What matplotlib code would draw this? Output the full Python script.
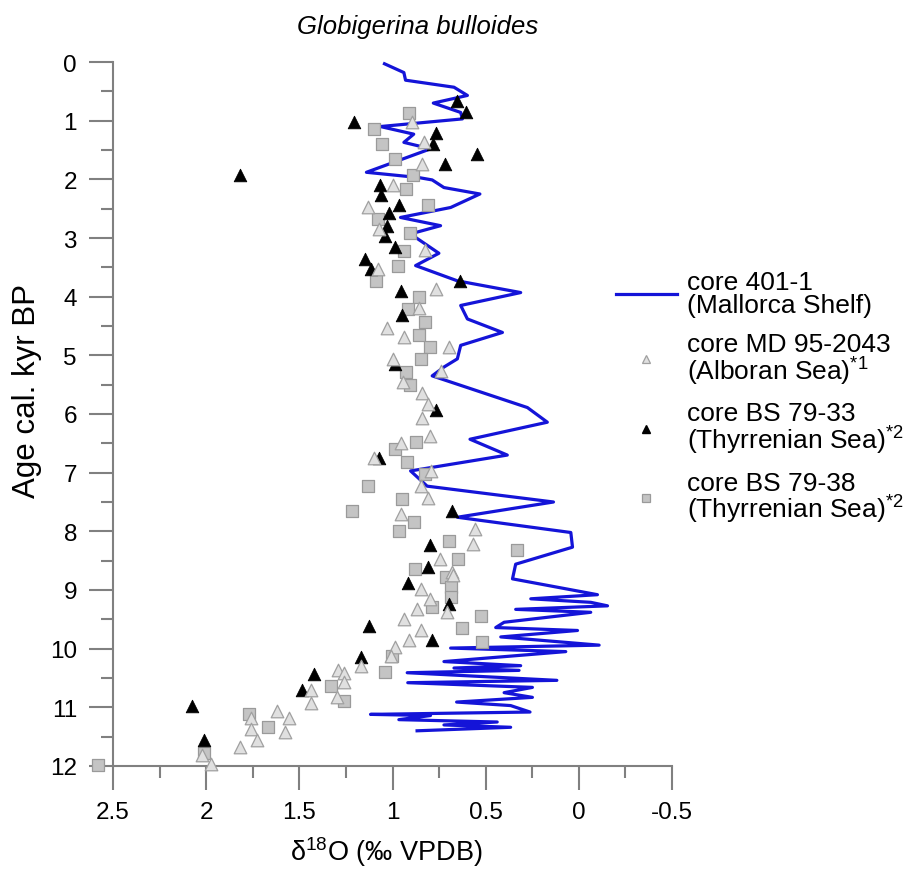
import matplotlib
matplotlib.use("Agg")
import matplotlib.pyplot as plt
from matplotlib.lines import Line2D
from matplotlib.ticker import MultipleLocator

plt.rcParams['font.family'] = ['Liberation Sans', 'DejaVu Sans']
plt.rcParams['mathtext.fontset'] = 'custom'
plt.rcParams['mathtext.rm'] = 'Liberation Sans'
plt.rcParams['mathtext.it'] = 'Liberation Sans:italic'

# core 401-1 (Mallorca Shelf): d18O vs age
line_d18o = [1.043, 0.939, 0.930, 0.670, 0.598, 0.781, 0.634, 0.625, 1.065, 0.886,
             0.939, 0.796, 1.140, 0.859, 0.787, 0.724, 0.531, 0.688, 0.957, 0.742,
             0.903, 0.876, 0.751, 0.876, 0.652, 0.312, 0.634, 0.598, 0.410, 0.634,
             0.652, 0.724, 0.787, 0.276, 0.169, 0.584, 0.384, 0.903, 0.814, 0.136,
             0.652, 0.043, 0.034, 0.339, 0.356, -0.100, 0.258, -0.064, -0.154, 0.339,
             -0.064, 0.401, 0.446, 0.007, 0.419, -0.109, 0.688, 0.070, 0.724, 0.312,
             0.670, 0.321, 0.921, 0.118, 0.918, 0.249, 0.401, 0.249, 0.656, 0.366,
             0.262, 1.118, 0.796, 0.966, 0.438, 0.724, 0.366, 0.868]
line_age = [0.03, 0.18, 0.31, 0.43, 0.57, 0.70, 0.86, 0.97, 1.10, 1.23,
            1.37, 1.48, 1.88, 1.97, 2.01, 2.14, 2.25, 2.48, 2.65, 2.79,
            2.93, 2.99, 3.26, 3.47, 3.73, 3.93, 4.15, 4.38, 4.61, 4.83,
            5.06, 5.20, 5.35, 5.89, 6.14, 6.43, 6.70, 6.97, 7.23, 7.50,
            7.76, 8.02, 8.27, 8.56, 8.81, 9.08, 9.15, 9.21, 9.27, 9.33,
            9.38, 9.55, 9.64, 9.69, 9.80, 9.94, 9.99, 10.05, 10.22, 10.29,
            10.33, 10.37, 10.41, 10.54, 10.58, 10.66, 10.75, 10.83, 10.91, 10.97,
            11.08, 11.12, 11.14, 11.21, 11.25, 11.30, 11.34, 11.40]

# core MD 95-2043 (Alboran Sea)
md_d18o = [0.896, 0.832, 0.840, 0.997, 1.131, 1.070, 0.823, 1.079, 0.769, 0.859,
           1.029, 0.939, 0.697, 0.997, 0.739, 0.943, 0.840, 0.810, 0.840, 0.800,
           0.957, 1.097, 0.796, 0.849, 0.810, 0.957, 0.559, 0.566, 0.747, 0.679,
           0.674, 0.849, 0.800, 0.710, 0.868, 0.939, 0.849, 0.909, 0.984, 1.007,
           1.168, 1.292, 1.258, 1.262, 1.437, 1.297, 1.437, 1.620, 1.557, 1.760,
           1.760, 1.728, 1.575, 1.817, 2.020, 1.975]
md_age = [1.02, 1.37, 1.74, 2.10, 2.48, 2.85, 3.20, 3.53, 3.87, 4.19,
          4.54, 4.68, 4.86, 5.06, 5.26, 5.46, 5.64, 5.83, 6.06, 6.37,
          6.50, 6.75, 6.98, 7.22, 7.44, 7.70, 7.96, 8.22, 8.48, 8.70,
          8.74, 8.98, 9.16, 9.37, 9.33, 9.50, 9.68, 9.85, 9.98, 10.13,
          10.29, 10.37, 10.41, 10.56, 10.70, 10.83, 10.93, 11.07, 11.19, 11.19,
          11.37, 11.55, 11.42, 11.68, 11.82, 11.96]

# core BS 79-33 (Thyrrenian Sea)
bs33_d18o = [0.656, 0.604, 1.208, 0.769, 0.783, 0.548, 0.720, 1.817, 1.068, 1.061,
             0.966, 1.020, 1.029, 1.038, 0.989, 1.149, 1.118, 0.638, 0.957, 0.948,
             0.989, 0.769, 1.074, 0.679, 0.800, 0.810, 0.918, 0.697, 1.127, 0.787,
             1.168, 1.419, 1.486, 2.077, 2.011]
bs33_age = [0.67, 0.86, 1.03, 1.21, 1.39, 1.56, 1.74, 1.93, 2.09, 2.26,
            2.44, 2.58, 2.79, 2.97, 3.16, 3.35, 3.53, 3.73, 3.90, 4.31,
            5.15, 5.93, 6.75, 7.66, 8.23, 8.60, 8.88, 9.24, 9.62, 9.86,
            10.15, 10.43, 10.70, 10.98, 11.56]

# core BS 79-38 (Thyrrenian Sea)
bs38_d18o = [0.912, 1.097, 1.056, 0.989, 0.889, 0.930, 0.810, 1.079, 0.907, 0.939,
             0.970, 1.091, 0.859, 0.918, 0.828, 0.859, 0.800, 0.849, 0.930, 0.907,
             0.876, 0.984, 0.921, 0.823, 1.133, 0.948, 1.220, 0.882, 0.966, 0.697,
             0.330, 0.647, 0.880, 0.715, 0.688, 0.688, 0.787, 0.527, 0.625, 0.518,
             1.002, 1.038, 1.330, 1.258, 1.769, 1.670, 2.011, 2.579]
bs38_age = [0.87, 1.14, 1.39, 1.65, 1.92, 2.16, 2.43, 2.68, 2.92, 3.22,
            3.47, 3.74, 4.01, 4.21, 4.44, 4.65, 4.86, 5.07, 5.29, 5.51,
            6.47, 6.60, 6.81, 7.02, 7.23, 7.45, 7.66, 7.84, 7.99, 8.16,
            8.31, 8.47, 8.64, 8.77, 8.95, 9.12, 9.29, 9.45, 9.64, 9.88,
            10.13, 10.39, 10.64, 10.89, 11.11, 11.34, 11.77, 11.99]

x_ticks = [2.5, 2, 1.5, 1, 0.5, 0, -0.5]
x_ticklabels = ['2.5', '2', '1.5', '1', '0.5', '0', '-0.5']
y_ticks = list(range(0, 13))

labels = ["core 401-1\n(Mallorca Shelf)",
          "core MD 95-2043\n(Alboran Sea)$^{*1}$",
          "core BS 79-33\n(Thyrrenian Sea)$^{*2}$",
          "core BS 79-38\n(Thyrrenian Sea)$^{*2}$"]

fig = plt.figure(figsize=(9.07, 8.70), dpi=100)
ax = fig.add_axes([113/907, 103/870, 559/907, 704/870])

blue = '#1414d8'
axcol = '#808080'
ax.plot(line_d18o, line_age, color=blue, lw=2.3, zorder=2, clip_on=False)
ax.scatter(bs38_d18o, bs38_age, marker='s', s=72, facecolor='#c4c4c4',
           edgecolor='#9a9a9a', linewidths=0.9, zorder=3, clip_on=False)
ax.scatter(bs33_d18o, bs33_age, marker='^', s=82, facecolor='black',
           edgecolor='black', linewidths=0.6, zorder=4, clip_on=False)
ax.scatter(md_d18o, md_age, marker='^', s=82, facecolor='#e0e0e0',
           edgecolor='#a0a0a0', linewidths=0.9, zorder=5, clip_on=False)

ax.set_xlim(2.5, -0.5)
ax.set_ylim(12, 0)
for s in ['top', 'right']:
    ax.spines[s].set_visible(False)
for s in ['left', 'bottom']:
    ax.spines[s].set_color(axcol)
    ax.spines[s].set_linewidth(1.5)

ax.set_xticks(x_ticks)
ax.set_xticklabels(x_ticklabels)
ax.xaxis.set_minor_locator(MultipleLocator(0.25))
ax.set_yticks(y_ticks)
ax.set_yticklabels([str(v) for v in y_ticks])
ax.yaxis.set_minor_locator(MultipleLocator(0.5))
ax.tick_params(which='major', length=17, width=1.5, color=axcol, labelsize=17.5,
               direction='out')
ax.tick_params(which='minor', length=8.5, width=1.5, color=axcol, direction='out')
ax.tick_params(axis='y', which='major', pad=9)
ax.tick_params(axis='x', which='major', pad=8)

ax.set_ylabel("Age cal. kyr BP", fontsize=22.5)
ax.yaxis.set_label_coords(-0.127, 0.534)

# x axis title placed by its baseline so that it stays inside the figure
fig.text(386/907, 1 - 861/870, "δ$^{18}$O (‰ VPDB)", fontsize=19.5,
         ha='center', va='baseline')

fig.text(418/907, 1 - 27/870, "Globigerina bulloides", style='italic',
         fontsize=18.5, ha='center', va='center')

handles = [
    Line2D([], [], color=blue, lw=2.3),
    Line2D([], [], marker='^', ls='none', ms=6, mfc='#e0e0e0', mec='#a0a0a0', mew=0.9),
    Line2D([], [], marker='^', ls='none', ms=6, mfc='black', mec='black'),
    Line2D([], [], marker='s', ls='none', ms=5.5, mfc='#c4c4c4', mec='#9a9a9a', mew=0.9),
]
leg = fig.legend(handles, labels, loc='upper left', bbox_to_anchor=(616/907, 1 - 271/870),
                 frameon=False, fontsize=19, handlelength=2.3, handletextpad=0.4,
                 labelspacing=0.55, borderpad=0, borderaxespad=0)
for t in leg.get_texts():
    t.set_linespacing(0.95)

fig.savefig("out.png", dpi=100)
